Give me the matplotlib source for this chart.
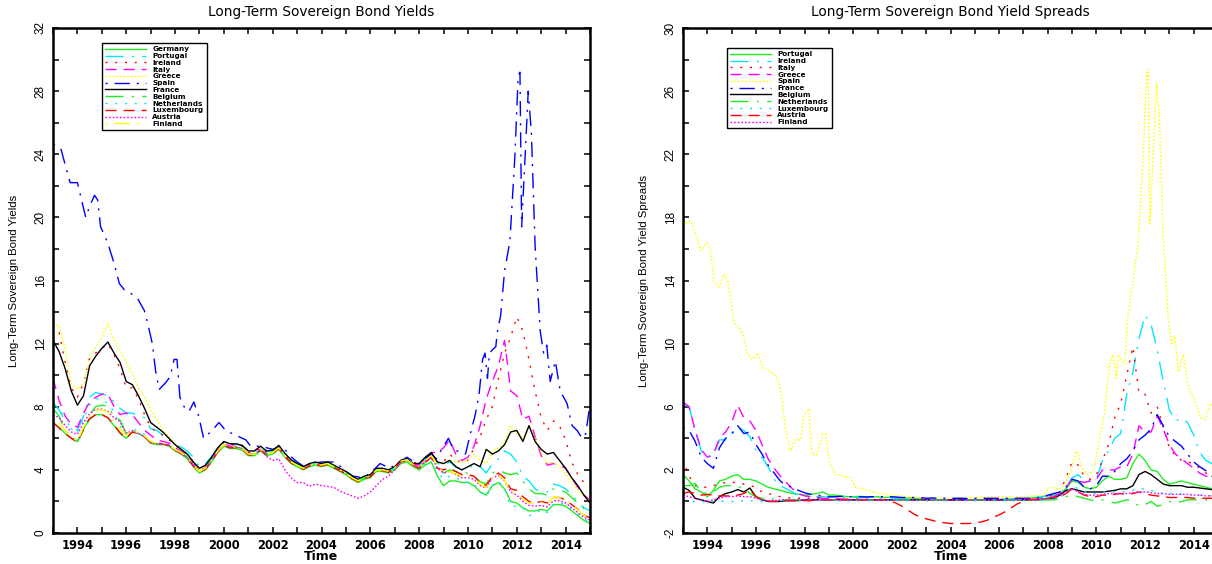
import numpy as np
import matplotlib
matplotlib.use("Agg")
import matplotlib.pyplot as plt
from matplotlib.ticker import FixedLocator, MultipleLocator, FuncFormatter

plt.rcParams['lines.scale_dashes'] = False

# ---------------- data (quarterly, 1993Q1 .. 2015Q1) ----------------
T = 1993 + np.arange(89) / 4.0

# Left panel: long-term sovereign bond yields (%)
germany = [7.0, 6.7, 6.3, 6.0, 5.8, 6.6, 7.2, 7.5, 7.5, 7.3, 6.8, 6.3, 6.0, 6.4, 6.3, 6.1,
           5.7, 5.6, 5.6, 5.5, 5.2, 5.0, 4.7, 4.2, 3.8, 4.0, 4.5, 5.1, 5.5, 5.35, 5.35, 5.25,
           4.9, 4.9, 5.2, 4.9, 5.0, 5.3, 4.8, 4.4, 4.2, 4.0, 4.2, 4.3, 4.2, 4.3, 4.1, 3.9,
           3.7, 3.4, 3.2, 3.4, 3.5, 3.9, 3.9, 3.8, 4.0, 4.4, 4.5, 4.2, 4.0, 4.3, 4.5, 3.6,
           3.0, 3.3, 3.3, 3.2, 3.2, 3.0, 2.6, 2.4, 3.0, 3.2, 2.8, 2.0, 1.9, 1.6, 1.4, 1.4,
           1.5, 1.4, 1.8, 1.8, 1.7, 1.4, 1.1, 0.8, 0.6]
portugal = [8.3, 7.8, 7.1, 6.7, 6.5, 7.4, 8.6, 8.9, 8.8, 8.7, 8.3, 7.9, 7.6, 7.6, 7.4, 7.3,
            6.6, 6.5, 6.2, 5.95, 5.6, 5.45, 5.2, 4.8, 4.2, 4.4, 4.85, 5.4, 5.8, 5.65, 5.65, 5.55,
            5.2, 5.15, 5.45, 5.15, 5.2, 5.5, 5.0, 4.6, 4.35, 4.15, 4.3, 4.4, 4.3, 4.4, 4.2, 4.0,
            3.8, 3.5, 3.3, 3.5, 3.6, 4.05, 4.05, 3.95, 4.15, 4.6, 4.75, 4.5, 4.35, 4.7, 5.0, 4.4,
            4.3, 4.5, 4.2, 4.0, 4.1, 4.3, 4.2, 3.8, 4.4, 4.7, 5.2, 5.0, 4.5, 3.6, 3.3, 2.8,
            2.6, 2.6, 3.1, 3.0, 2.8, 2.4, 2.0, 1.6, 1.4]
ireland = [13.2, 12.7, 10.8, 9.2, 8.6, 9.5, 11.1, 11.4, 11.7, 12.0, 11.3, 10.4, 9.2, 9.2, 8.5, 7.5,
           6.7, 6.4, 6.2, 5.9, 5.55, 5.3, 5.0, 4.5, 4.05, 4.25, 4.75, 5.35, 5.75, 5.6, 5.6, 5.5,
           5.1, 5.1, 5.4, 5.1, 5.15, 5.45, 4.95, 4.55, 4.3, 4.1, 4.3, 4.4, 4.3, 4.4, 4.2, 4.0,
           3.8, 3.5, 3.3, 3.5, 3.65, 4.05, 4.05, 4.0, 4.2, 4.6, 4.75, 4.5, 4.35, 4.7, 5.0, 4.5,
           4.5, 5.0, 4.6, 4.5, 4.6, 5.4, 6.1, 7.2, 8.0, 9.8, 11.4, 12.4, 13.7, 12.8, 11.0, 9.0,
           7.3, 6.5, 7.1, 6.8, 5.9, 4.5, 3.7, 3.2, 2.9]
italy = [9.8, 8.4, 7.4, 6.9, 6.7, 7.6, 8.3, 8.6, 8.8, 8.8, 8.0, 7.5, 7.6, 7.5, 7.0, 6.5,
         6.2, 5.9, 5.8, 5.7, 5.4, 5.2, 4.9, 4.4, 3.95, 4.15, 4.65, 5.25, 5.65, 5.5, 5.5, 5.4,
         5.0, 5.0, 5.3, 5.0, 5.1, 5.4, 4.9, 4.5, 4.3, 4.1, 4.3, 4.4, 4.3, 4.4, 4.2, 4.0,
         3.8, 3.5, 3.3, 3.5, 3.6, 4.0, 4.0, 3.9, 4.1, 4.5, 4.65, 4.4, 4.3, 4.7, 5.1, 5.1,
         5.4, 5.9, 5.0, 4.6, 4.8, 5.5, 6.8, 8.5, 9.6, 10.6, 12.2, 9.0, 8.7, 7.2, 7.4, 6.1,
         4.9, 4.3, 4.4, 4.3, 4.1, 3.5, 2.9, 2.4, 2.1]
greece = [13.3, 13.1, 11.6, 9.4, 9.1, 9.5, 11.0, 11.8, 12.4, 13.3, 12.2, 11.6, 10.8, 10.1, 9.2, 8.6,
          7.8, 7.2, 6.5, 6.1, 5.6, 5.3, 4.95, 4.4, 3.95, 4.15, 4.65, 5.2, 5.6, 5.45, 5.45, 5.35,
          5.0, 5.0, 5.3, 5.0, 5.1, 5.4, 4.9, 4.5, 4.3, 4.1, 4.3, 4.4, 4.3, 4.4, 4.2, 4.0,
          3.8, 3.5, 3.3, 3.5, 3.6, 4.0, 4.0, 3.9, 4.1, 4.5, 4.6, 4.3, 4.2, 4.6, 5.0, 4.5,
          4.4, 4.6, 4.5, 4.5, 4.6, 5.0, 4.6, 4.4, 5.2, 5.4, 5.8, 6.8, 6.3, 6.0, 6.8, 6.0,
          5.1, 4.4, 4.5, 4.2, 3.8, 3.2, 2.7, 2.3, 2.0]
spain_t = [1993.0, 1993.1, 1993.33, 1993.7, 1994.0, 1994.14, 1994.34, 1994.5, 1994.7, 1994.83,
           1994.95, 1995.24, 1995.5, 1995.72, 1995.93, 1996.17, 1996.45, 1996.74, 1996.86, 1997.07,
           1997.2, 1997.35, 1997.6, 1997.8, 1997.96, 1998.08, 1998.2, 1998.37, 1998.57, 1998.77,
           1998.97, 1999.17, 1999.52, 1999.8, 2000.07, 2000.48, 2000.9, 2001.1, 2001.5, 2002.0,
           2002.4, 2002.7, 2003.0, 2003.3, 2003.6, 2004.0, 2004.5, 2004.8, 2005.0, 2005.3,
           2005.7, 2006.0, 2006.4, 2006.8, 2007.0, 2007.5, 2007.8, 2008.0, 2008.5, 2008.7,
           2009.0, 2009.2, 2009.4, 2009.7, 2009.9, 2010.1, 2010.3, 2010.45, 2010.6, 2010.7,
           2010.8, 2010.88, 2011.0, 2011.14, 2011.2, 2011.34, 2011.5, 2011.72, 2011.92, 2012.06,
           2012.13, 2012.2, 2012.33, 2012.47, 2012.6, 2012.75, 2012.96, 2013.1, 2013.23, 2013.37,
           2013.58, 2013.78, 2014.06, 2014.27, 2014.47, 2014.68, 2014.83, 2015.0]
spain = [24.6, 24.6, 24.3, 22.2, 22.2, 21.3, 20.0, 20.7, 21.4, 21.1,
         19.4, 18.4, 17.1, 15.8, 15.4, 15.2, 14.9, 14.1, 13.4, 12.0,
         10.3, 9.1, 9.5, 9.9, 11.0, 11.0, 8.6, 8.0, 7.7, 8.3,
         7.4, 6.0, 6.5, 7.0, 6.5, 6.2, 5.9, 5.5, 5.5, 5.3,
         5.5, 4.9, 4.5, 4.2, 4.4, 4.5, 4.5, 4.2, 3.9, 3.6,
         3.5, 3.8, 4.4, 4.1, 4.3, 4.8, 4.5, 4.4, 5.0, 4.7,
         5.5, 6.0, 5.3, 5.1, 5.0, 6.3, 7.5, 8.7, 11.0, 11.4,
         9.8, 11.4, 11.6, 11.8, 12.7, 13.8, 16.6, 18.5, 23.8, 29.0,
         29.2, 19.4, 23.5, 28.0, 25.3, 18.2, 12.8, 11.4, 11.9, 9.6,
         10.9, 9.0, 8.2, 6.8, 6.5, 6.0, 6.3, 8.2]
france = [12.2, 11.5, 10.4, 9.0, 8.1, 8.7, 10.6, 11.2, 11.7, 12.1, 11.4, 10.8, 9.6, 9.4, 8.7, 7.9,
          7.0, 6.7, 6.4, 6.0, 5.6, 5.3, 5.0, 4.5, 4.1, 4.3, 4.8, 5.4, 5.8, 5.65, 5.65, 5.55,
          5.2, 5.2, 5.5, 5.2, 5.25, 5.55, 5.05, 4.65, 4.4, 4.2, 4.4, 4.5, 4.4, 4.5, 4.3, 4.1,
          3.9, 3.6, 3.4, 3.6, 3.7, 4.1, 4.1, 4.0, 4.2, 4.6, 4.7, 4.4, 4.4, 4.8, 5.1, 4.5,
          4.4, 4.6, 4.2, 4.0, 4.2, 4.4, 4.2, 5.3, 5.0, 5.2, 5.6, 6.4, 6.5, 5.8, 6.8, 5.8,
          5.3, 5.0, 5.1, 4.6, 4.1, 3.5, 3.0, 2.4, 1.9]
belgium = [7.9, 7.4, 6.5, 6.1, 5.8, 6.5, 7.5, 8.0, 8.1, 8.05, 7.4, 7.15, 6.3, 6.5, 6.3, 6.1,
           5.7, 5.65, 5.65, 5.55, 5.3, 5.1, 4.8, 4.3, 3.9, 4.1, 4.6, 5.2, 5.6, 5.45, 5.45, 5.35,
           5.0, 5.0, 5.3, 5.0, 5.1, 5.4, 4.9, 4.5, 4.3, 4.1, 4.3, 4.4, 4.3, 4.4, 4.2, 4.0,
           3.8, 3.5, 3.3, 3.5, 3.6, 4.0, 4.0, 3.9, 4.1, 4.5, 4.6, 4.3, 4.15, 4.5, 4.9, 4.3,
           3.8, 4.0, 3.9, 3.8, 3.8, 3.6, 3.25, 3.1, 3.8, 4.0, 3.8, 3.7, 3.8, 3.3, 2.8, 2.5,
           2.5, 2.4, 2.8, 2.7, 2.6, 2.25, 1.9, 1.55, 1.3]
netherlands = [8.0, 7.7, 7.45, 6.6, 6.3, 7.2, 8.1, 8.5, 8.5, 8.2, 7.7, 6.8, 6.3, 6.6, 6.45, 6.25,
               5.8, 5.7, 5.7, 5.6, 5.3, 5.1, 4.8, 4.3, 3.9, 4.1, 4.6, 5.2, 5.6, 5.45, 5.45, 5.35,
               5.0, 5.0, 5.3, 5.0, 5.1, 5.4, 4.9, 4.5, 4.3, 4.1, 4.3, 4.4, 4.3, 4.4, 4.2, 4.0,
               3.8, 3.5, 3.3, 3.5, 3.6, 4.0, 4.0, 3.9, 4.1, 4.5, 4.6, 4.3, 4.1, 4.4, 4.7, 3.9,
               3.4, 3.6, 3.5, 3.3, 3.2, 3.1, 2.6, 2.3, 3.0, 3.3, 2.8, 1.7, 1.7, 1.6, 1.1, 1.2,
               1.5, 1.3, 1.8, 1.9, 1.8, 1.5, 1.2, 0.9, 0.7]
luxembourg = [7.0, 6.65, 6.3, 6.0, 5.75, 6.6, 7.25, 7.5, 7.5, 7.3, 6.85, 6.35, 6.0, 6.4, 6.3, 6.1,
              5.75, 5.65, 5.65, 5.55, 5.25, 5.05, 4.75, 4.25, 3.85, 4.05, 4.55, 5.15, 5.55, 5.4, 5.4, 5.3,
              4.95, 4.95, 5.25, 4.95, 5.05, 5.35, 4.85, 4.45, 4.25, 4.05, 4.25, 4.35, 4.25, 4.35, 4.15, 3.95,
              3.75, 3.45, 3.25, 3.45, 3.55, 3.95, 3.95, 3.85, 4.1, 4.5, 4.6, 4.3, 4.1, 4.45, 4.8, 4.1,
              4.0, 4.1, 3.9, 3.7, 3.7, 3.6, 3.2, 3.0, 3.6, 3.8, 3.5, 2.8, 2.7, 2.3, 2.0, 1.9,
              2.0, 1.9, 2.25, 2.25, 2.1, 1.8, 1.5, 1.15, 0.95]
austria = [7.5, 7.3, 6.8, 6.4, 6.25, 7.0, 7.55, 7.85, 7.85, 7.7, 7.3, 7.05, 6.3, 6.5, 6.3, 6.1,
           5.7, 5.65, 5.65, 5.55, 5.25, 5.05, 4.8, 4.3, 3.9, 4.1, 4.6, 5.2, 5.6, 5.45, 5.45, 5.35,
           5.0, 5.0, 5.3, 4.85, 4.6, 4.7, 4.0, 3.5, 3.2, 3.2, 2.95, 3.1, 3.0, 2.95, 2.9, 2.65,
           2.5, 2.35, 2.2, 2.35, 2.6, 3.0, 3.4, 3.6, 4.0, 4.5, 4.65, 4.35, 4.2, 4.55, 4.8, 4.1,
           3.8, 3.9, 3.7, 3.5, 3.5, 3.4, 3.0, 2.85, 3.5, 3.65, 3.3, 2.6, 2.4, 2.0, 1.75, 1.7,
           1.75, 1.65, 2.05, 2.05, 1.9, 1.6, 1.3, 1.0, 0.8]
finland = [7.4, 7.0, 6.5, 6.1, 5.8, 6.7, 7.4, 7.8, 7.8, 7.65, 7.1, 6.6, 6.2, 6.5, 6.35, 6.15,
           5.8, 5.7, 5.7, 5.6, 5.3, 5.1, 4.8, 4.3, 3.9, 4.1, 4.6, 5.2, 5.6, 5.45, 5.45, 5.35,
           5.0, 5.0, 5.3, 5.0, 5.1, 5.4, 4.9, 4.5, 4.3, 4.1, 4.3, 4.4, 4.3, 4.4, 4.2, 4.0,
           3.8, 3.5, 3.3, 3.5, 3.6, 4.0, 4.0, 3.9, 4.15, 4.55, 4.65, 4.35, 4.2, 4.6, 4.9, 4.3,
           3.8, 3.9, 3.75, 3.6, 3.6, 3.45, 3.1, 2.9, 3.5, 3.7, 3.35, 2.6, 2.5, 2.15, 1.9, 1.9,
           1.95, 1.85, 2.25, 2.25, 2.1, 1.8, 1.45, 1.15, 0.9]

# Right panel: spreads (percentage points)
sp_portugal = [1.7, 1.3, 0.8, 0.6, 0.3, 0.7, 1.3, 1.4, 1.6, 1.7, 1.4, 1.4, 1.3, 1.1, 0.9, 0.8,
               0.7, 0.6, 0.5, 0.45, 0.4, 0.45, 0.5, 0.6, 0.4, 0.4, 0.35, 0.3, 0.3, 0.32, 0.3, 0.28,
               0.3, 0.25, 0.27, 0.25, 0.2, 0.22, 0.2, 0.18, 0.15, 0.15, 0.12, 0.1, 0.1, 0.12, 0.1, 0.1,
               0.1, 0.08, 0.1, 0.1, 0.1, 0.15, 0.15, 0.15, 0.15, 0.2, 0.25, 0.3, 0.35, 0.4, 0.5, 0.8,
               1.3, 1.2, 0.9, 0.8, 0.9, 1.3, 1.6, 1.4, 1.4, 1.5, 2.4, 3.0, 2.6, 2.0, 1.9, 1.4,
               1.1, 1.2, 1.3, 1.2, 1.1, 1.0, 0.9, 0.8, 0.8]
sp_ireland = [6.2, 6.0, 4.5, 3.2, 2.8, 2.9, 3.9, 3.9, 4.2, 4.7, 4.5, 4.1, 3.2, 2.8, 2.2, 1.4,
              1.0, 0.8, 0.6, 0.4, 0.35, 0.3, 0.3, 0.3, 0.25, 0.27, 0.25, 0.25, 0.25, 0.23, 0.25, 0.25,
              0.2, 0.2, 0.22, 0.2, 0.15, 0.17, 0.15, 0.15, 0.1, 0.12, 0.1, 0.1, 0.1, 0.1, 0.12, 0.1,
              0.1, 0.1, 0.1, 0.12, 0.15, 0.15, 0.15, 0.2, 0.2, 0.2, 0.25, 0.3, 0.35, 0.4, 0.5, 0.9,
              1.5, 1.7, 1.3, 1.3, 1.4, 2.6, 3.2, 4.0, 4.3, 6.8, 8.2, 10.3, 11.8, 11.2, 9.6, 7.6,
              5.8, 5.1, 5.3, 5.0, 4.2, 3.1, 2.6, 2.4, 2.3]
sp_italy = [2.7, 1.6, 1.0, 0.9, 0.9, 1.0, 1.1, 1.2, 1.2, 1.2, 1.1, 1.0, 0.9, 0.6, 0.5, 0.4,
            0.3, 0.25, 0.2, 0.2, 0.2, 0.2, 0.2, 0.2, 0.15, 0.15, 0.17, 0.15, 0.15, 0.15, 0.13, 0.15,
            0.1, 0.12, 0.1, 0.1, 0.1, 0.1, 0.12, 0.1, 0.1, 0.08, 0.1, 0.1, 0.1, 0.1, 0.1, 0.08,
            0.1, 0.1, 0.1, 0.1, 0.1, 0.1, 0.12, 0.1, 0.1, 0.1, 0.15, 0.2, 0.3, 0.4, 0.6, 1.5,
            2.5, 2.3, 1.6, 1.4, 1.7, 2.6, 3.6, 5.3, 6.2, 8.0, 9.8, 6.9, 6.8, 5.6, 6.0, 4.7,
            3.4, 2.9, 2.6, 2.5, 2.4, 2.1, 1.8, 1.6, 1.5]
sp_greece = [6.3, 6.0, 4.5, 3.3, 2.8, 3.0, 4.0, 4.4, 5.0, 6.1, 5.3, 5.1, 4.5, 3.6, 2.7, 2.1,
             1.6, 1.2, 0.8, 0.5, 0.35, 0.3, 0.25, 0.2, 0.15, 0.15, 0.15, 0.15, 0.1, 0.12, 0.1, 0.1,
             0.1, 0.1, 0.1, 0.08, 0.1, 0.1, 0.1, 0.1, 0.08, 0.1, 0.1, 0.1, 0.1, 0.1, 0.08, 0.1,
             0.1, 0.1, 0.1, 0.1, 0.1, 0.1, 0.1, 0.12, 0.1, 0.1, 0.12, 0.15, 0.2, 0.3, 0.5, 0.9,
             1.4, 1.3, 1.2, 1.3, 1.4, 2.0, 2.0, 2.0, 2.2, 2.2, 3.0, 4.8, 4.4, 4.4, 5.4, 4.6,
             3.6, 3.0, 2.7, 2.4, 2.1, 1.8, 1.6, 1.5, 1.4]
sp_spain_t = [1993.0, 1993.1, 1993.3, 1993.45, 1993.73, 1994.0, 1994.14, 1994.27, 1994.48, 1994.7,
              1994.83, 1994.96, 1995.1, 1995.37, 1995.5, 1995.64, 1995.85, 1996.1, 1996.23, 1996.47,
              1996.74, 1996.95, 1997.08, 1997.2, 1997.42, 1997.63, 1997.84, 1997.97, 1998.18, 1998.3,
              1998.5, 1998.73, 1998.86, 1999.0, 1999.27, 1999.6, 1999.9, 2000.1, 2000.4, 2000.85,
              2001.1, 2002.0, 2003.0, 2004.0, 2005.0, 2006.0, 2007.0, 2007.8, 2008.1, 2008.5,
              2008.7, 2008.96, 2009.17, 2009.25, 2009.37, 2009.65, 2009.86, 2010.06, 2010.34, 2010.55,
              2010.68, 2010.82, 2010.9, 2011.03, 2011.17, 2011.3, 2011.5, 2011.72, 2011.92, 2012.06,
              2012.13, 2012.2, 2012.33, 2012.47, 2012.6, 2012.75, 2012.96, 2013.1, 2013.23, 2013.37,
              2013.58, 2013.78, 2014.06, 2014.27, 2014.47, 2014.68, 2014.83, 2015.0]
sp_spain = [18.0, 17.6, 17.8, 17.3, 15.9, 16.4, 15.9, 13.9, 13.6, 14.4,
            14.0, 12.8, 11.3, 10.9, 10.4, 9.4, 9.0, 9.4, 8.5, 8.3,
            8.1, 7.5, 6.4, 4.7, 3.2, 3.9, 3.9, 5.4, 5.9, 3.0,
            2.9, 4.3, 4.3, 2.6, 1.7, 1.6, 1.5, 0.9, 0.8, 0.6,
            0.5, 0.35, 0.2, 0.2, 0.25, 0.3, 0.3, 0.4, 0.9, 0.8,
            1.1, 1.95, 3.2, 3.0, 2.2, 1.7, 1.95, 3.4, 5.7, 8.7,
            9.3, 7.8, 9.3, 8.9, 8.7, 11.8, 13.9, 16.4, 21.8, 27.0,
            27.4, 17.6, 21.8, 26.5, 23.9, 16.8, 11.4, 9.9, 10.5, 8.2,
            9.3, 7.2, 6.4, 5.3, 5.2, 6.2, 6.0, 6.5]
sp_france = [4.7, 4.5, 3.8, 2.8, 2.4, 2.1, 3.4, 4.0, 4.3, 4.8, 4.3, 4.4, 3.6, 3.0, 2.3, 1.8,
             1.3, 1.0, 0.9, 0.7, 0.55, 0.45, 0.4, 0.35, 0.3, 0.3, 0.32, 0.3, 0.3, 0.3, 0.28, 0.3,
             0.3, 0.3, 0.3, 0.28, 0.25, 0.25, 0.25, 0.25, 0.2, 0.22, 0.2, 0.2, 0.2, 0.2, 0.2, 0.18,
             0.2, 0.2, 0.2, 0.2, 0.2, 0.2, 0.2, 0.2, 0.2, 0.2, 0.22, 0.25, 0.4, 0.5, 0.6, 0.9,
             1.4, 1.3, 0.9, 0.8, 1.0, 1.6, 1.6, 1.9, 2.4, 2.7, 3.2, 3.9, 4.2, 4.6, 5.5, 4.8,
             4.1, 3.8, 3.5, 3.0, 2.5, 2.2, 1.95, 1.6, 1.4]
sp_belgium = [0.9, 0.7, 0.2, 0.1, 0.0, -0.1, 0.3, 0.5, 0.6, 0.75, 0.6, 0.85, 0.3, 0.1, 0.0, 0.0,
              0.0, 0.05, 0.05, 0.05, 0.1, 0.1, 0.1, 0.1, 0.1, 0.1, 0.12, 0.1, 0.1, 0.1, 0.1, 0.1,
              0.1, 0.1, 0.1, 0.1, 0.1, 0.1, 0.1, 0.1, 0.1, 0.1, 0.1, 0.1, 0.1, 0.1, 0.1, 0.1,
              0.1, 0.1, 0.1, 0.1, 0.1, 0.1, 0.1, 0.1, 0.1, 0.1, 0.1, 0.12, 0.15, 0.2, 0.4, 0.7,
              0.8, 0.7, 0.6, 0.6, 0.6, 0.6, 0.65, 0.7, 0.8, 0.8, 1.0, 1.7, 1.9, 1.7, 1.4, 1.1,
              1.0, 1.0, 1.0, 0.9, 0.9, 0.85, 0.8, 0.75, 0.7]
sp_netherlands = [1.0, 1.0, 1.15, 0.6, 0.5, 0.6, 0.9, 1.0, 1.0, 0.9, 0.9, 0.5, 0.3, 0.2, 0.15, 0.15,
                  0.1, 0.1, 0.1, 0.1, 0.1, 0.1, 0.1, 0.1, 0.1, 0.1, 0.1, 0.1, 0.1, 0.1, 0.1, 0.1,
                  0.1, 0.1, 0.1, 0.1, 0.1, 0.1, 0.1, 0.1, 0.1, 0.1, 0.1, 0.1, 0.1, 0.1, 0.1, 0.1,
                  0.1, 0.1, 0.1, 0.1, 0.1, 0.1, 0.1, 0.1, 0.1, 0.1, 0.1, 0.1, 0.1, 0.1, 0.2, 0.3,
                  0.4, 0.3, 0.2, 0.1, 0.0, 0.1, 0.0, -0.1, 0.0, 0.1, 0.0, -0.3, -0.2, 0.0, -0.3, -0.2,
                  0.0, -0.1, 0.0, 0.1, 0.1, 0.1, 0.1, 0.1, 0.1]
sp_luxembourg = [0.0, -0.05, 0.0, 0.0, -0.05, 0.0, 0.05, 0.0, 0.0, 0.0, 0.05, 0.05, 0.0, 0.0, 0.0, 0.0,
                 0.05, 0.05, 0.05, 0.05, 0.05, 0.05, 0.05, 0.05, 0.05, 0.05, 0.05, 0.05, 0.05, 0.05, 0.05, 0.05,
                 0.05, 0.05, 0.05, 0.05, 0.05, 0.05, 0.05, 0.05, 0.05, 0.05, 0.05, 0.05, 0.05, 0.05, 0.05, 0.05,
                 0.05, 0.05, 0.05, 0.05, 0.05, 0.05, 0.05, 0.05, 0.05, 0.05, 0.08, 0.08, 0.1, 0.15, 0.3, 0.5,
                 1.0, 0.8, 0.6, 0.5, 0.5, 0.6, 0.6, 0.6, 0.6, 0.6, 0.7, 0.8, 0.8, 0.7, 0.6, 0.5,
                 0.5, 0.5, 0.45, 0.45, 0.4, 0.4, 0.4, 0.35, 0.35]
sp_austria = [0.5, 0.6, 0.5, 0.4, 0.45, 0.4, 0.35, 0.35, 0.35, 0.4, 0.5, 0.75, 0.3, 0.1, 0.0, 0.0,
              0.0, 0.05, 0.05, 0.05, 0.05, 0.05, 0.1, 0.1, 0.1, 0.1, 0.1, 0.1, 0.1, 0.1, 0.1, 0.1,
              0.1, 0.1, 0.05, -0.1, -0.3, -0.55, -0.8, -1.0, -1.1, -1.2, -1.3, -1.35, -1.4, -1.4, -1.4, -1.4,
              -1.35, -1.3, -1.2, -1.0, -0.85, -0.65, -0.4, -0.15, 0.0, 0.1, 0.15, 0.15, 0.2, 0.25, 0.3, 0.5,
              0.8, 0.6, 0.4, 0.3, 0.3, 0.4, 0.4, 0.45, 0.5, 0.45, 0.5, 0.6, 0.5, 0.4, 0.35, 0.3,
              0.25, 0.25, 0.25, 0.25, 0.2, 0.2, 0.2, 0.2, 0.2]
sp_finland = [0.4, 0.3, 0.2, 0.1, 0.0, 0.1, 0.2, 0.3, 0.3, 0.35, 0.3, 0.3, 0.2, 0.1, 0.05, 0.05,
              0.1, 0.1, 0.1, 0.1, 0.1, 0.1, 0.1, 0.1, 0.1, 0.1, 0.1, 0.1, 0.1, 0.1, 0.1, 0.1,
              0.1, 0.1, 0.1, 0.1, 0.1, 0.1, 0.1, 0.1, 0.1, 0.1, 0.1, 0.1, 0.1, 0.1, 0.1, 0.1,
              0.1, 0.1, 0.1, 0.1, 0.1, 0.1, 0.1, 0.1, 0.15, 0.15, 0.15, 0.15, 0.2, 0.3, 0.4, 0.6,
              0.8, 0.6, 0.45, 0.4, 0.4, 0.45, 0.5, 0.5, 0.5, 0.5, 0.55, 0.6, 0.6, 0.55, 0.5, 0.5,
              0.45, 0.45, 0.45, 0.45, 0.4, 0.4, 0.35, 0.35, 0.3]

year_ticks = list(range(1994, 2015, 2))

# ---------------- styles ----------------
GREEN, CYAN, RED, MAG, YEL, BLUE, BLK = '#22ee22', '#00e8ff', '#ff0000', '#ff00ff', '#ffff00', '#0000ff', '#000000'
SOLID = '-'
LDOT = (0, (13, 6, 1.5, 6))      # long dash + dot
SDOT = (0, (1.5, 5.5))           # sparse dots
DASH = (0, (8, 5))               # dashes
DDOT = (0, (1.2, 1.4))           # dense dots
DDASH = (0, (1.5, 5, 11, 5))     # dot + long dash

left_series = [
    ('Germany', T, germany, GREEN, SOLID),
    ('Portugal', T, portugal, CYAN, LDOT),
    ('Ireland', T, ireland, RED, SDOT),
    ('Italy', T, italy, MAG, DASH),
    ('Greece', T, greece, YEL, DDOT),
    ('Spain', spain_t, spain, BLUE, DDASH),
    ('France', T, france, BLK, SOLID),
    ('Belgium', T, belgium, GREEN, LDOT),
    ('Netherlands', T, netherlands, CYAN, SDOT),
    ('Luxembourg', T, luxembourg, RED, DASH),
    ('Austria', T, austria, MAG, DDOT),
    ('Finland', T, finland, YEL, DDASH),
]
right_series = [
    ('Portugal', T, sp_portugal, GREEN, SOLID),
    ('Ireland', T, sp_ireland, CYAN, LDOT),
    ('Italy', T, sp_italy, RED, SDOT),
    ('Greece', T, sp_greece, MAG, DASH),
    ('Spain', sp_spain_t, sp_spain, YEL, DDOT),
    ('France', T, sp_france, BLUE, DDASH),
    ('Belgium', T, sp_belgium, BLK, SOLID),
    ('Netherlands', T, sp_netherlands, GREEN, LDOT),
    ('Luxembourg', T, sp_luxembourg, CYAN, SDOT),
    ('Austria', T, sp_austria, RED, DASH),
    ('Finland', T, sp_finland, MAG, DDOT),
]

W, H = 1212, 564
fig = plt.figure(figsize=(W / 100, H / 100), dpi=100)
axL = fig.add_axes([53 / W, 31 / H, 537 / W, 505 / H])
axR = fig.add_axes([683 / W, 31 / H, 535 / W, 505 / H])


def style(ax, ymin, ymax, title, ylabel, series, leg_anchor):
    for name, t, v, c, ls in series:
        ax.plot(t, v, color=c, linestyle=ls, linewidth=1.0, label=name)
    ax.set_xlim(1993, 2015)
    ax.set_ylim(ymin, ymax)
    ax.xaxis.set_major_locator(FixedLocator(year_ticks))
    ax.xaxis.set_minor_locator(MultipleLocator(1))
    ax.yaxis.set_major_locator(FixedLocator(list(range(ymin, ymax + 1, 4))))
    ax.yaxis.set_minor_locator(FixedLocator(list(range(ymin, ymax + 1, 2))))
    ax.xaxis.set_major_formatter(FuncFormatter(lambda x, p: '%d' % round(x)))
    ax.yaxis.set_major_formatter(FuncFormatter(lambda y, p: '%d' % round(y)))
    ax.tick_params(which='both', direction='in', length=4.5, width=1.1,
                   top=True, right=True)
    ax.tick_params(axis='x', which='major', pad=4)
    ax.tick_params(axis='y', which='major', pad=4.5)
    for lab in ax.get_xticklabels():
        lab.set_fontfamily('DejaVu Sans')
        lab.set_fontweight('bold')
        lab.set_fontsize(8.3)
    for lab in ax.get_yticklabels():
        lab.set_fontfamily('Liberation Sans')
        lab.set_fontsize(8.5)
        lab.set_rotation(90)
        lab.set_va('center')
    for s in ax.spines.values():
        s.set_linewidth(1.8)
    ax.text(0.5, 1 + 16 / 505, title, transform=ax.transAxes, ha='center',
            va='center', fontsize=9.8, family='DejaVu Sans')
    ax.set_ylabel(ylabel, family='Liberation Sans', fontsize=8.2)
    ax.yaxis.set_label_coords(-34 / 537, 0.5)
    ax.set_xlabel('Time', family='DejaVu Sans', fontweight='bold', fontsize=9)
    ax.xaxis.set_label_coords(0.5, -17 / 505)
    leg = ax.legend(loc='upper left', bbox_to_anchor=leg_anchor,
                    prop={'family': 'DejaVu Sans', 'weight': 'bold', 'size': 5.2},
                    handlelength=5.6, handletextpad=0.9, labelspacing=0.1,
                    borderpad=0.45, borderaxespad=0, fancybox=False, framealpha=1)
    leg.get_frame().set_edgecolor('black')
    leg.get_frame().set_linewidth(1.0)


style(axL, 0, 32, 'Long-Term Sovereign Bond Yields', 'Long-Term Sovereign Bond Yields',
      left_series, (49 / 537, 1 - 15 / 505))
style(axR, -2, 30, 'Long-Term Sovereign Bond Yield Spreads',
      'Long-Term Sovereign Bond Yield Spreads', right_series, (44 / 535, 1 - 20 / 505))

fig.savefig('out.png', dpi=100)
